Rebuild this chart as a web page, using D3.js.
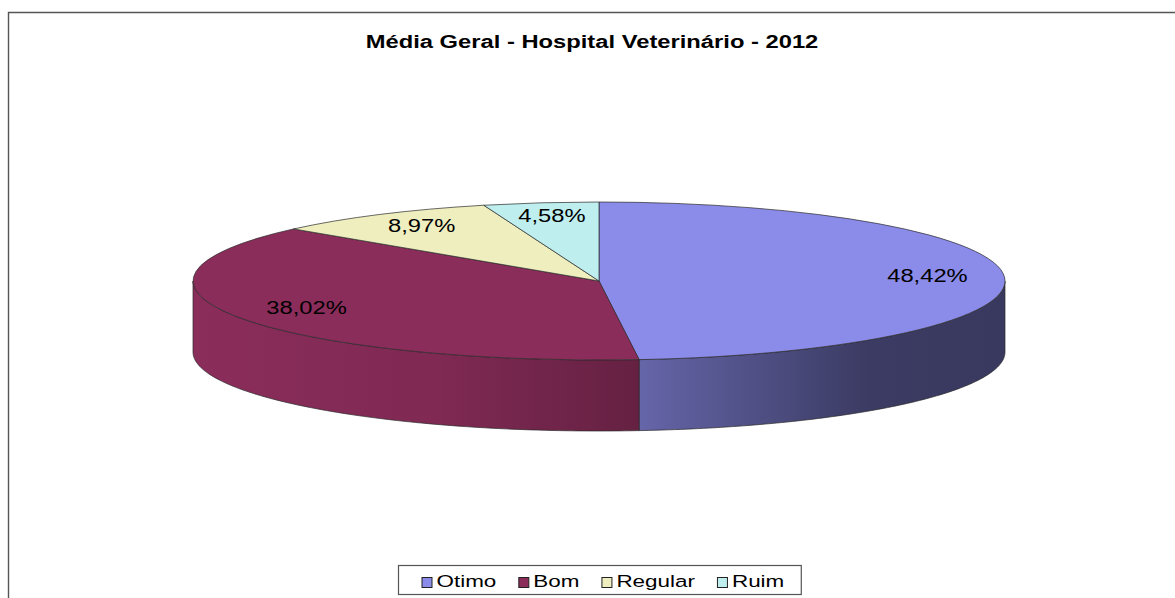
<!DOCTYPE html>
<html>
<head>
<meta charset="utf-8">
<script src="https://cdn.jsdelivr.net/npm/d3@7"></script>
<style>
  html, body { margin: 0; padding: 0; background: #fff; }
  svg { display: block; font-family: "Liberation Sans", Arial, sans-serif; }
</style>
</head>
<body>
<svg id="chart" width="1175" height="598"></svg>
<script>
// Survey results, share of answers per rating
const titleText = "Média Geral - Hospital Veterinário - 2012";
const categories = ["Otimo", "Bom", "Regular", "Ruim"];
const values = [48.42, 38.02, 8.97, 4.58];

const W = 1175, H = 598;
const svg = d3.select("#chart");

// Office-style text is drawn a little wide
const STRETCH = 1.32;

const color = d3.scaleOrdinal()
  .domain(categories)
  .range(["#8B8BE9", "#8B2D5B", "#EEEEBF", "#BFEEEE"]);

// Tilted pie geometry
const cx = 599, cy = 281, rx = 406, ry = 79, depth = 71;
const pt = (t, dz) => [cx + rx * Math.sin(t), cy - ry * Math.cos(t) + (dz || 0)];

const pie = d3.pie().sort(null).value(d => d);
const arcs = pie(values).map((a, i) => Object.assign(a, { cat: categories[i] }));

// Chart area frame (top and left edges are inside the page)
svg.append("path")
  .attr("d", `M8.5,${H} V12.5 H${W}`)
  .attr("fill", "none")
  .attr("stroke", "#555")
  .attr("stroke-width", 1.4);

function stretchedText(sel, x, y, txt, size, weight) {
  return sel.append("text")
    .attr("transform", `translate(${x},${y}) scale(${STRETCH},1)`)
    .attr("text-anchor", "middle")
    .attr("font-size", size)
    .attr("font-weight", weight || "normal")
    .attr("fill", "#000")
    .text(txt);
}

// Title
stretchedText(svg, 592, 48, titleText, 18, "bold");

// Side shading: lit from the left, darker toward the right
const defs = svg.append("defs");
const shade = [[0, 0], [0.3, 0.25], [0.55, 0.9], [0.83, 2.4], [1, 2.5]];

const sideG = svg.append("g");
const line = d3.line();
arcs.forEach((a, i) => {
  const lo = Math.max(a.startAngle, Math.PI / 2);
  const hi = Math.min(a.endAngle, 3 * Math.PI / 2);
  if (lo >= hi) return;
  const id = "side" + i;
  const g = defs.append("linearGradient")
    .attr("id", id)
    .attr("gradientUnits", "userSpaceOnUse")
    .attr("x1", cx - rx).attr("x2", cx + rx)
    .attr("y1", 0).attr("y2", 0);
  shade.forEach(([o, k]) => {
    g.append("stop").attr("offset", o).attr("stop-color", d3.color(color(a.cat)).darker(k).formatHex());
  });
  const ts = d3.range(0, 101).map(j => lo + (hi - lo) * j / 100);
  const pts = ts.map(t => pt(t, 0)).concat(ts.slice().reverse().map(t => pt(t, depth)));
  sideG.append("path")
    .attr("d", line(pts) + "Z")
    .attr("fill", `url(#${id})`)
    .attr("stroke", "#2a2a2a")
    .attr("stroke-width", 0.7)
    .attr("stroke-linejoin", "round");
});

// Top face: circular arcs squashed into an ellipse
const arcGen = d3.arc().innerRadius(0).outerRadius(rx);
svg.append("g")
  .attr("transform", `translate(${cx},${cy}) scale(1,${ry / rx})`)
  .selectAll("path")
  .data(arcs)
  .join("path")
  .attr("d", arcGen)
  .attr("fill", d => color(d.cat))
  .attr("stroke", "#2a2a2a")
  .attr("stroke-width", 0.7)
  .attr("vector-effect", "non-scaling-stroke")
  .attr("stroke-linejoin", "round");

// Value labels
const locale = d3.formatLocale({ decimal: ",", thousands: ".", grouping: [3], currency: ["", ""] });
const fmt = locale.format(".2f");
const labelG = svg.append("g");
arcs.forEach(a => {
  const mid = (a.startAngle + a.endAngle) / 2;
  const x = cx + rx * 0.81 * Math.sin(mid);
  const y = cy - ry * 0.8 * Math.cos(mid);
  stretchedText(labelG, x, y + 4, fmt(a.data) + "%", 18);
});

// Legend
const legend = svg.append("g");
const items = [];
let xpos = 0;
categories.forEach((c, i) => {
  const it = legend.append("g");
  it.append("rect")
    .attr("x", 0.5).attr("y", -9.5)
    .attr("width", 10).attr("height", 10)
    .attr("fill", color(c))
    .attr("stroke", "#222").attr("stroke-width", 1);
  const t = it.append("text")
    .attr("transform", `translate(15,0) scale(${STRETCH},1)`)
    .attr("font-size", 17)
    .attr("fill", "#000")
    .text(c);
  const w = 15 + t.node().getComputedTextLength() * STRETCH;
  items.push({ it, x: xpos });
  xpos += w + (i < categories.length - 1 ? 22 : 0);
});
const padL = 23, padR = 17;
const boxW = xpos + padL + padR;
const boxX = Math.round(599.5 - boxW / 2) + 0.5;
legend.insert("rect", ":first-child")
  .attr("x", boxX).attr("y", 565.5)
  .attr("width", boxW).attr("height", 29)
  .attr("fill", "#fff")
  .attr("stroke", "#555").attr("stroke-width", 1.2);
items.forEach(({ it, x }) => it.attr("transform", `translate(${boxX + padL + x},587)`));
</script>
</body>
</html>
